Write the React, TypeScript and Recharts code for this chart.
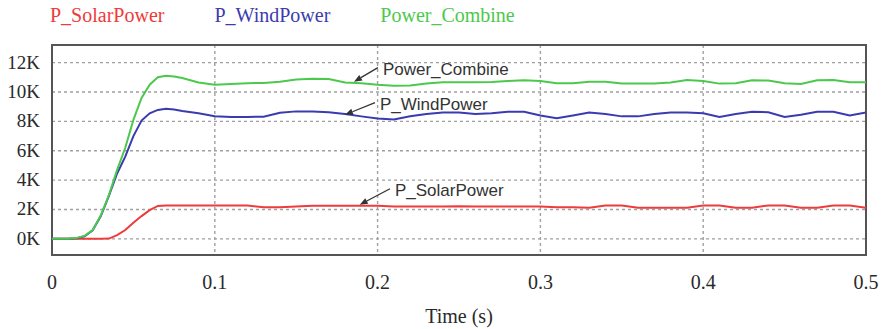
import React from "react";
import {
  LineChart,
  Line,
  XAxis,
  YAxis,
  CartesianGrid,
  Legend,
  ReferenceArea,
  ReferenceLine,
} from "recharts";

// ---------- data ----------
const timeS = [
  0, 0.01, 0.015, 0.02, 0.025, 0.03, 0.035, 0.04, 0.045, 0.05, 0.055, 0.06, 0.065, 0.07, 0.075, 0.08,
  0.09, 0.1, 0.11, 0.12, 0.13, 0.14, 0.15, 0.16, 0.17, 0.18, 0.19, 0.2, 0.21, 0.22, 0.23, 0.24, 0.25,
  0.26, 0.27, 0.28, 0.29, 0.3, 0.31, 0.32, 0.33, 0.34, 0.35, 0.36, 0.37, 0.38, 0.39, 0.4, 0.41, 0.42,
  0.43, 0.44, 0.45, 0.46, 0.47, 0.48, 0.49, 0.5,
];

const solarPower = [
  0, 0, 0, 0, 0, 0, 20, 250, 600, 1100, 1550, 1950, 2240, 2270, 2270, 2270,
  2270, 2270, 2270, 2270, 2150, 2150, 2200, 2250, 2250, 2250, 2250, 2250, 2200, 2200, 2200, 2200, 2220,
  2200, 2200, 2200, 2200, 2200, 2150, 2150, 2120, 2270, 2270, 2120, 2120, 2120, 2120, 2270, 2270, 2120,
  2120, 2270, 2270, 2120, 2120, 2270, 2270, 2120,
];

const windPower = [
  0, 0, 40, 180, 580, 1550, 2950, 4450, 5600, 7000, 8050, 8550, 8780, 8860, 8800, 8700,
  8550, 8350, 8300, 8300, 8320, 8580, 8680, 8680, 8620, 8500, 8340, 8200, 8120, 8350, 8500, 8600, 8600,
  8500, 8550, 8650, 8650, 8400, 8220, 8400, 8600, 8500, 8340, 8340, 8500, 8600, 8600, 8550, 8300, 8500,
  8660, 8620, 8300, 8450, 8660, 8660, 8400, 8600,
];

const combinePower = [
  0, 0, 50, 200, 600, 1600, 3000, 4700, 6200, 8100, 9600, 10500, 11000, 11100, 11050, 10950,
  10650, 10500, 10550, 10600, 10620, 10700, 10850, 10900, 10880, 10650, 10600, 10500, 10430, 10450, 10580, 10660, 10660,
  10660, 10680, 10750, 10800, 10750, 10600, 10600, 10700, 10700, 10580, 10580, 10580, 10650, 10820, 10750, 10570, 10600,
  10800, 10780, 10600, 10550, 10800, 10820, 10660, 10660,
];

const xTicks = [0, 0.1, 0.2, 0.3, 0.4, 0.5];
const yTicks = [0, 2000, 4000, 6000, 8000, 10000, 12000];
const xDomain: [number, number] = [0, 0.5];
const yDomain: [number, number] = [-1100, 13200];

const seriesNames = ["P_SolarPower", "P_WindPower", "Power_Combine"];
const seriesColors = ["#ee3b3b", "#3b3bb0", "#4cc94c"];

// annotation arrows: head point on curve -> tail point near label (data units)
const annotations = [
  { label: "Power_Combine", head: { x: 0.1855, y: 10700 }, tail: { x: 0.2002, y: 11660 } },
  { label: "P_WindPower", head: { x: 0.18, y: 8450 }, tail: { x: 0.1984, y: 9270 } },
  { label: "P_SolarPower", head: { x: 0.189, y: 2320 }, tail: { x: 0.2076, y: 3410 } },
];

const rows = timeS.map((t, i) => ({
  t,
  solar: solarPower[i],
  wind: windPower[i],
  combine: combinePower[i],
}));

const SERIF = "Liberation Serif";
const SANS = "Liberation Sans";

const makeArrow = (label: string) => (p: any) => {
  const { x1, y1, x2, y2 } = p;
  const ang = Math.atan2(y1 - y2, x1 - x2);
  const L = 8;
  const W = 3.2;
  const bx = x1 - L * Math.cos(ang);
  const by = y1 - L * Math.sin(ang);
  const pts = `${x1},${y1} ${bx + W * Math.sin(ang)},${by - W * Math.cos(ang)} ${bx - W * Math.sin(ang)},${by + W * Math.cos(ang)}`;
  return (
    <g>
      <line x1={bx} y1={by} x2={x2} y2={y2} stroke="#333" strokeWidth={1.3} />
      <polygon points={pts} fill="#333" />
      <text x={x2 + 5} y={y2 + 2} dominantBaseline="central" fontFamily={SANS} fontSize={17} fill="#333">
        {label}
      </text>
    </g>
  );
};

const XTick = (p: any) => (
  <text x={p.x} y={p.y} dy={15} textAnchor="middle" fontFamily={SERIF} fontSize={20} fill="#2a2a2a">
    {String(p.payload.value)}
  </text>
);

const YTick = (p: any) => (
  <text x={p.x} y={p.y} dy={6} textAnchor="end" fontFamily={SERIF} fontSize={19} fill="#2a2a2a">
    {`${p.payload.value / 1000}K`}
  </text>
);

const LegendContent = (props: any) => {
  const payload = props.payload || [];
  return (
    <div style={{ display: "flex", fontSize: 20, whiteSpace: "nowrap", fontFamily: SERIF }}>
      {payload.map((e: any, i: number) => (
        <span key={i} style={{ color: e.color, marginRight: 50 }}>
          {e.value}
        </span>
      ))}
    </div>
  );
};

export default function App() {
  return (
    <div style={{ position: "absolute", left: 0, top: 0, width: 881, height: 329, background: "#fff" }}>
      <LineChart width={881} height={329} data={rows} margin={{ top: 45, right: 15, bottom: 0, left: 0 }}>
        <CartesianGrid stroke="#a0a0a0" strokeDasharray="3 3" strokeWidth={1.4} />
        <XAxis
          type="number"
          dataKey="t"
          domain={xDomain}
          ticks={xTicks}
          allowDataOverflow
          height={74}
          axisLine={false}
          tickLine={false}
          tickMargin={13}
          tick={<XTick />}
          label={{
            value: "Time (s)",
            position: "insideBottom",
            offset: 6,
            fontSize: 20,
            fill: "#2a2a2a",
            fontFamily: SERIF,
          }}
        />
        <YAxis
          type="number"
          domain={yDomain}
          ticks={yTicks}
          allowDataOverflow
          width={52}
          axisLine={false}
          tickLine={false}
          tickMargin={6}
          tick={<YTick />}
        />
        <ReferenceArea
          x1={xDomain[0]}
          x2={xDomain[1]}
          y1={yDomain[0]}
          y2={yDomain[1]}
          fill="none"
          stroke="#555"
          strokeWidth={2}
          fillOpacity={0}
        />
        <Legend
          verticalAlign="middle"
          align="center"
          wrapperStyle={{ top: 4, left: 50, width: "auto" }}
          content={LegendContent}
        />
        <Line type="linear" dataKey="solar" name={seriesNames[0]} stroke={seriesColors[0]} strokeWidth={2} dot={false} isAnimationActive={false} />
        <Line type="linear" dataKey="wind" name={seriesNames[1]} stroke={seriesColors[1]} strokeWidth={2} dot={false} isAnimationActive={false} />
        <Line type="linear" dataKey="combine" name={seriesNames[2]} stroke={seriesColors[2]} strokeWidth={2} dot={false} isAnimationActive={false} />
        {annotations.map((a) => (
          <ReferenceLine key={a.label} segment={[a.head, a.tail]} shape={makeArrow(a.label)} />
        ))}
      </LineChart>
    </div>
  );
}
